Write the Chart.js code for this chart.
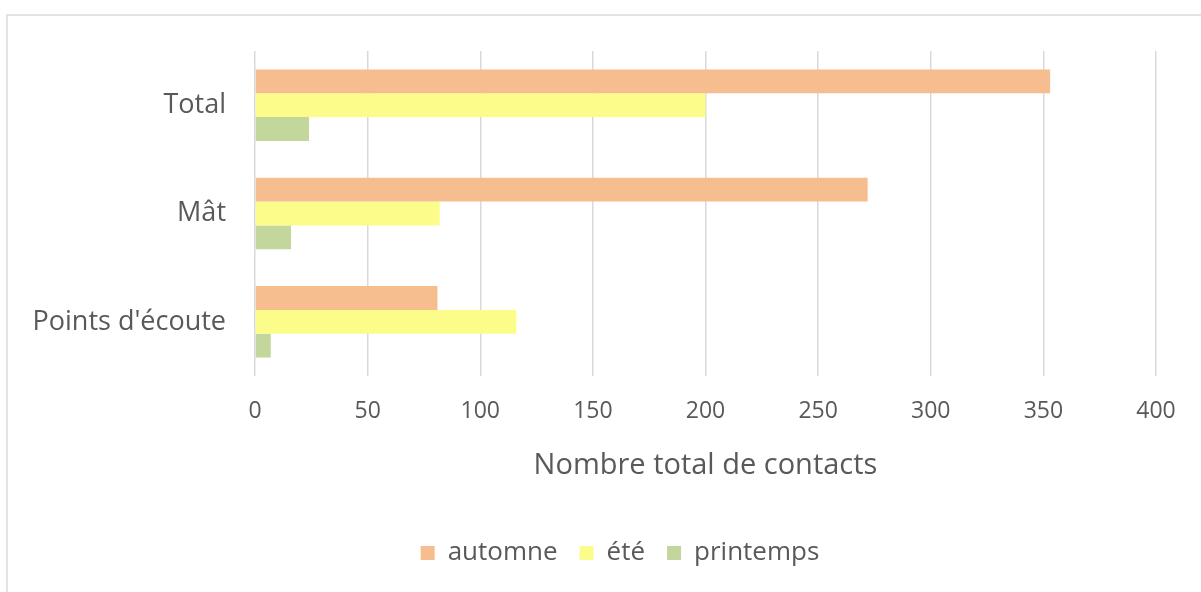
<!DOCTYPE html>
<html>
<head>
<meta charset="utf-8">
<script src="https://cdn.jsdelivr.net/npm/chart.js@4"></script>
<style>
  html, body { margin: 0; padding: 0; background: #ffffff; }
  #wrap { position: relative; width: 1201px; height: 592px; }
  #frame { position: absolute; left: 6px; top: 14px; right: 0; bottom: 0; border-top: 2px solid #e3e3e3; border-left: 2px solid #e3e3e3; pointer-events: none; }
  canvas { position: absolute; left: 0; top: 0; }
</style>
</head>
<body>
<div id="wrap">
  <canvas id="c" width="1201" height="592"></canvas>
  <div id="frame"></div>
</div>
<script>
const categories = ["Total", "Mât", "Points d'écoute"];
const automne = [353, 272, 81];
const ete = [200, 82, 116];
const printemps = [24, 16, 7];
const xTicks = [0, 50, 100, 150, 200, 250, 300, 350, 400];
const axisTitle = "Nombre total de contacts";
const seriesNames = ["automne", "été", "printemps"];

const FONT = "'Open Sans', sans-serif";
const TXT = "#595959";

const legendShift = {
  id: 'legendShift',
  afterLayout(chart) {
    const lg = chart.legend;
    if (lg) { lg.left += 42; lg.right += 42; }
  }
};

new Chart(document.getElementById('c'), {
  type: 'bar',
  data: {
    labels: categories,
    datasets: [
      { label: seriesNames[0], data: automne, backgroundColor: '#f6be8e' },
      { label: seriesNames[1], data: ete, backgroundColor: '#fcfc8a' },
      { label: seriesNames[2], data: printemps, backgroundColor: '#c3d69b' }
    ]
  },
  plugins: [legendShift],
  options: {
    indexAxis: 'y',
    responsive: false,
    animation: false,
    devicePixelRatio: 1,
    layout: { padding: { top: 51, right: 45, left: 0, bottom: 16 } },
    datasets: { bar: { categoryPercentage: 0.66, barPercentage: 1.0, borderWidth: 0 } },
    scales: {
      x: {
        min: 0, max: 400,
        afterBuildTicks: (s) => { s.ticks = xTicks.map(v => ({ value: v })); },
        afterFit: (s) => { s.height = 142; },
        grid: { color: '#d9d9d9', lineWidth: 1.5, drawTicks: false },
        border: { display: false },
        ticks: { color: TXT, font: { family: FONT, size: 23 }, padding: 22, maxRotation: 0 },
        title: { display: true, text: axisTitle, color: TXT, font: { family: FONT, size: 29 }, padding: { top: 0, bottom: 34.6 } }
      },
      y: {
        afterFit: (s) => { s.width = 255; },
        grid: { display: false, drawTicks: false },
        border: { display: false },
        ticks: { color: TXT, font: { family: FONT, size: 27 }, padding: 29 }
      }
    },
    plugins: {
      legend: {
        position: 'bottom',
        labels: { color: TXT, font: { family: FONT, size: 26 }, boxWidth: 14, boxHeight: 14, padding: 22 }
      },
      tooltip: { enabled: false }
    }
  }
});
</script>
</body>
</html>
